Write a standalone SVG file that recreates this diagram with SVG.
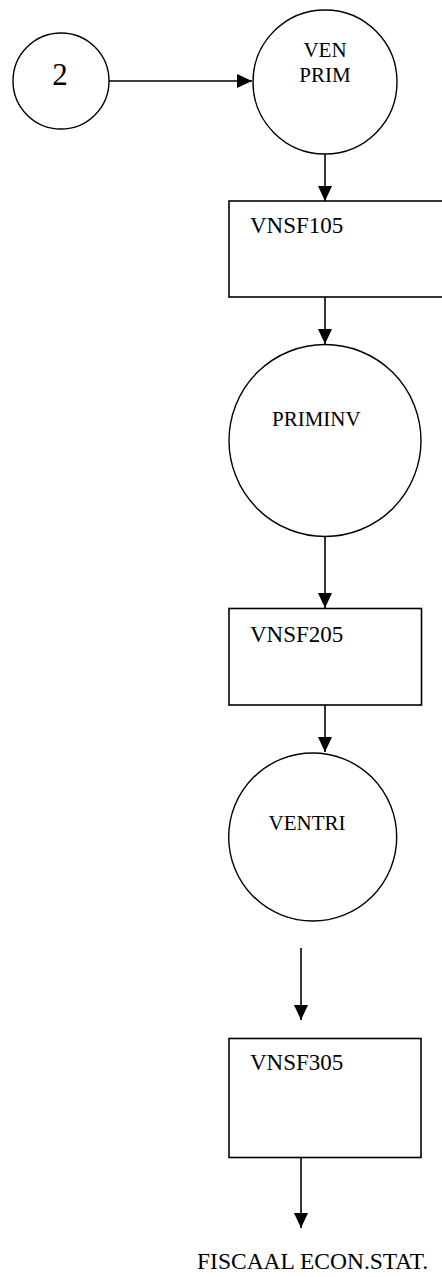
<svg xmlns="http://www.w3.org/2000/svg" width="442" height="1277" viewBox="0 0 442 1277">
<style>
.shape{fill:#fff;stroke:#000;stroke-width:1.4}
.box{fill:#fff;stroke:#000;stroke-width:1.6}
.t{font-family:"Liberation Serif","Times New Roman",serif;fill:#000}
.edge{fill:none;stroke:#000;stroke-width:1.6}
</style>
<defs>
<marker id="ah" markerUnits="userSpaceOnUse" markerWidth="16" markerHeight="16" viewBox="0 0 16 16" refX="15" refY="8" orient="auto">
<path d="M0,1 L15,8 L0,15 Z" fill="#000"/>
</marker>
</defs>
<rect width="442" height="1277" fill="#fff"/>
<g id="connectors">
<line class="edge" x1="109" y1="81" x2="252" y2="81" marker-end="url(#ah)"/>
<line class="edge" x1="325" y1="154" x2="325" y2="201" marker-end="url(#ah)"/>
<line class="edge" x1="325" y1="297" x2="325" y2="344" marker-end="url(#ah)"/>
<line class="edge" x1="325" y1="537" x2="325" y2="608" marker-end="url(#ah)"/>
<line class="edge" x1="325" y1="705" x2="325" y2="752" marker-end="url(#ah)"/>
<line class="edge" x1="301" y1="948" x2="301" y2="1020" marker-end="url(#ah)"/>
<line class="edge" x1="301" y1="1157" x2="301" y2="1228" marker-end="url(#ah)"/>
</g>
<g id="n2">
<circle class="shape" cx="61" cy="81" r="48"/>
<text class="t" x="60" y="85" font-size="31" text-anchor="middle">2</text>
</g>
<g id="venprim">
<circle class="shape" cx="325" cy="82" r="72"/>
<text class="t" x="325" y="57" font-size="21" text-anchor="middle">VEN</text>
<text class="t" x="325" y="82" font-size="21" text-anchor="middle">PRIM</text>
</g>
<g id="vnsf105">
<rect class="box" x="229" y="201" width="230" height="96"/>
<text class="t" x="250" y="233" font-size="23">VNSF105</text>
</g>
<g id="priminv">
<circle class="shape" cx="325" cy="440.5" r="96"/>
<text class="t" x="272" y="426" font-size="21">PRIMINV</text>
</g>
<g id="vnsf205">
<rect class="box" x="229" y="608.5" width="192.5" height="96.5"/>
<text class="t" x="250" y="641.5" font-size="23">VNSF205</text>
</g>
<g id="ventri">
<circle class="shape" cx="312.7" cy="837" r="84"/>
<text class="t" x="268.5" y="829.5" font-size="21">VENTRI</text>
</g>
<g id="vnsf305">
<rect class="box" x="229" y="1038.5" width="192" height="119"/>
<text class="t" x="250" y="1070" font-size="23">VNSF305</text>
</g>
<g id="output">
<text class="t" x="197" y="1269" font-size="23.5">FISCAAL ECON.STAT.</text>
</g>
</svg>
